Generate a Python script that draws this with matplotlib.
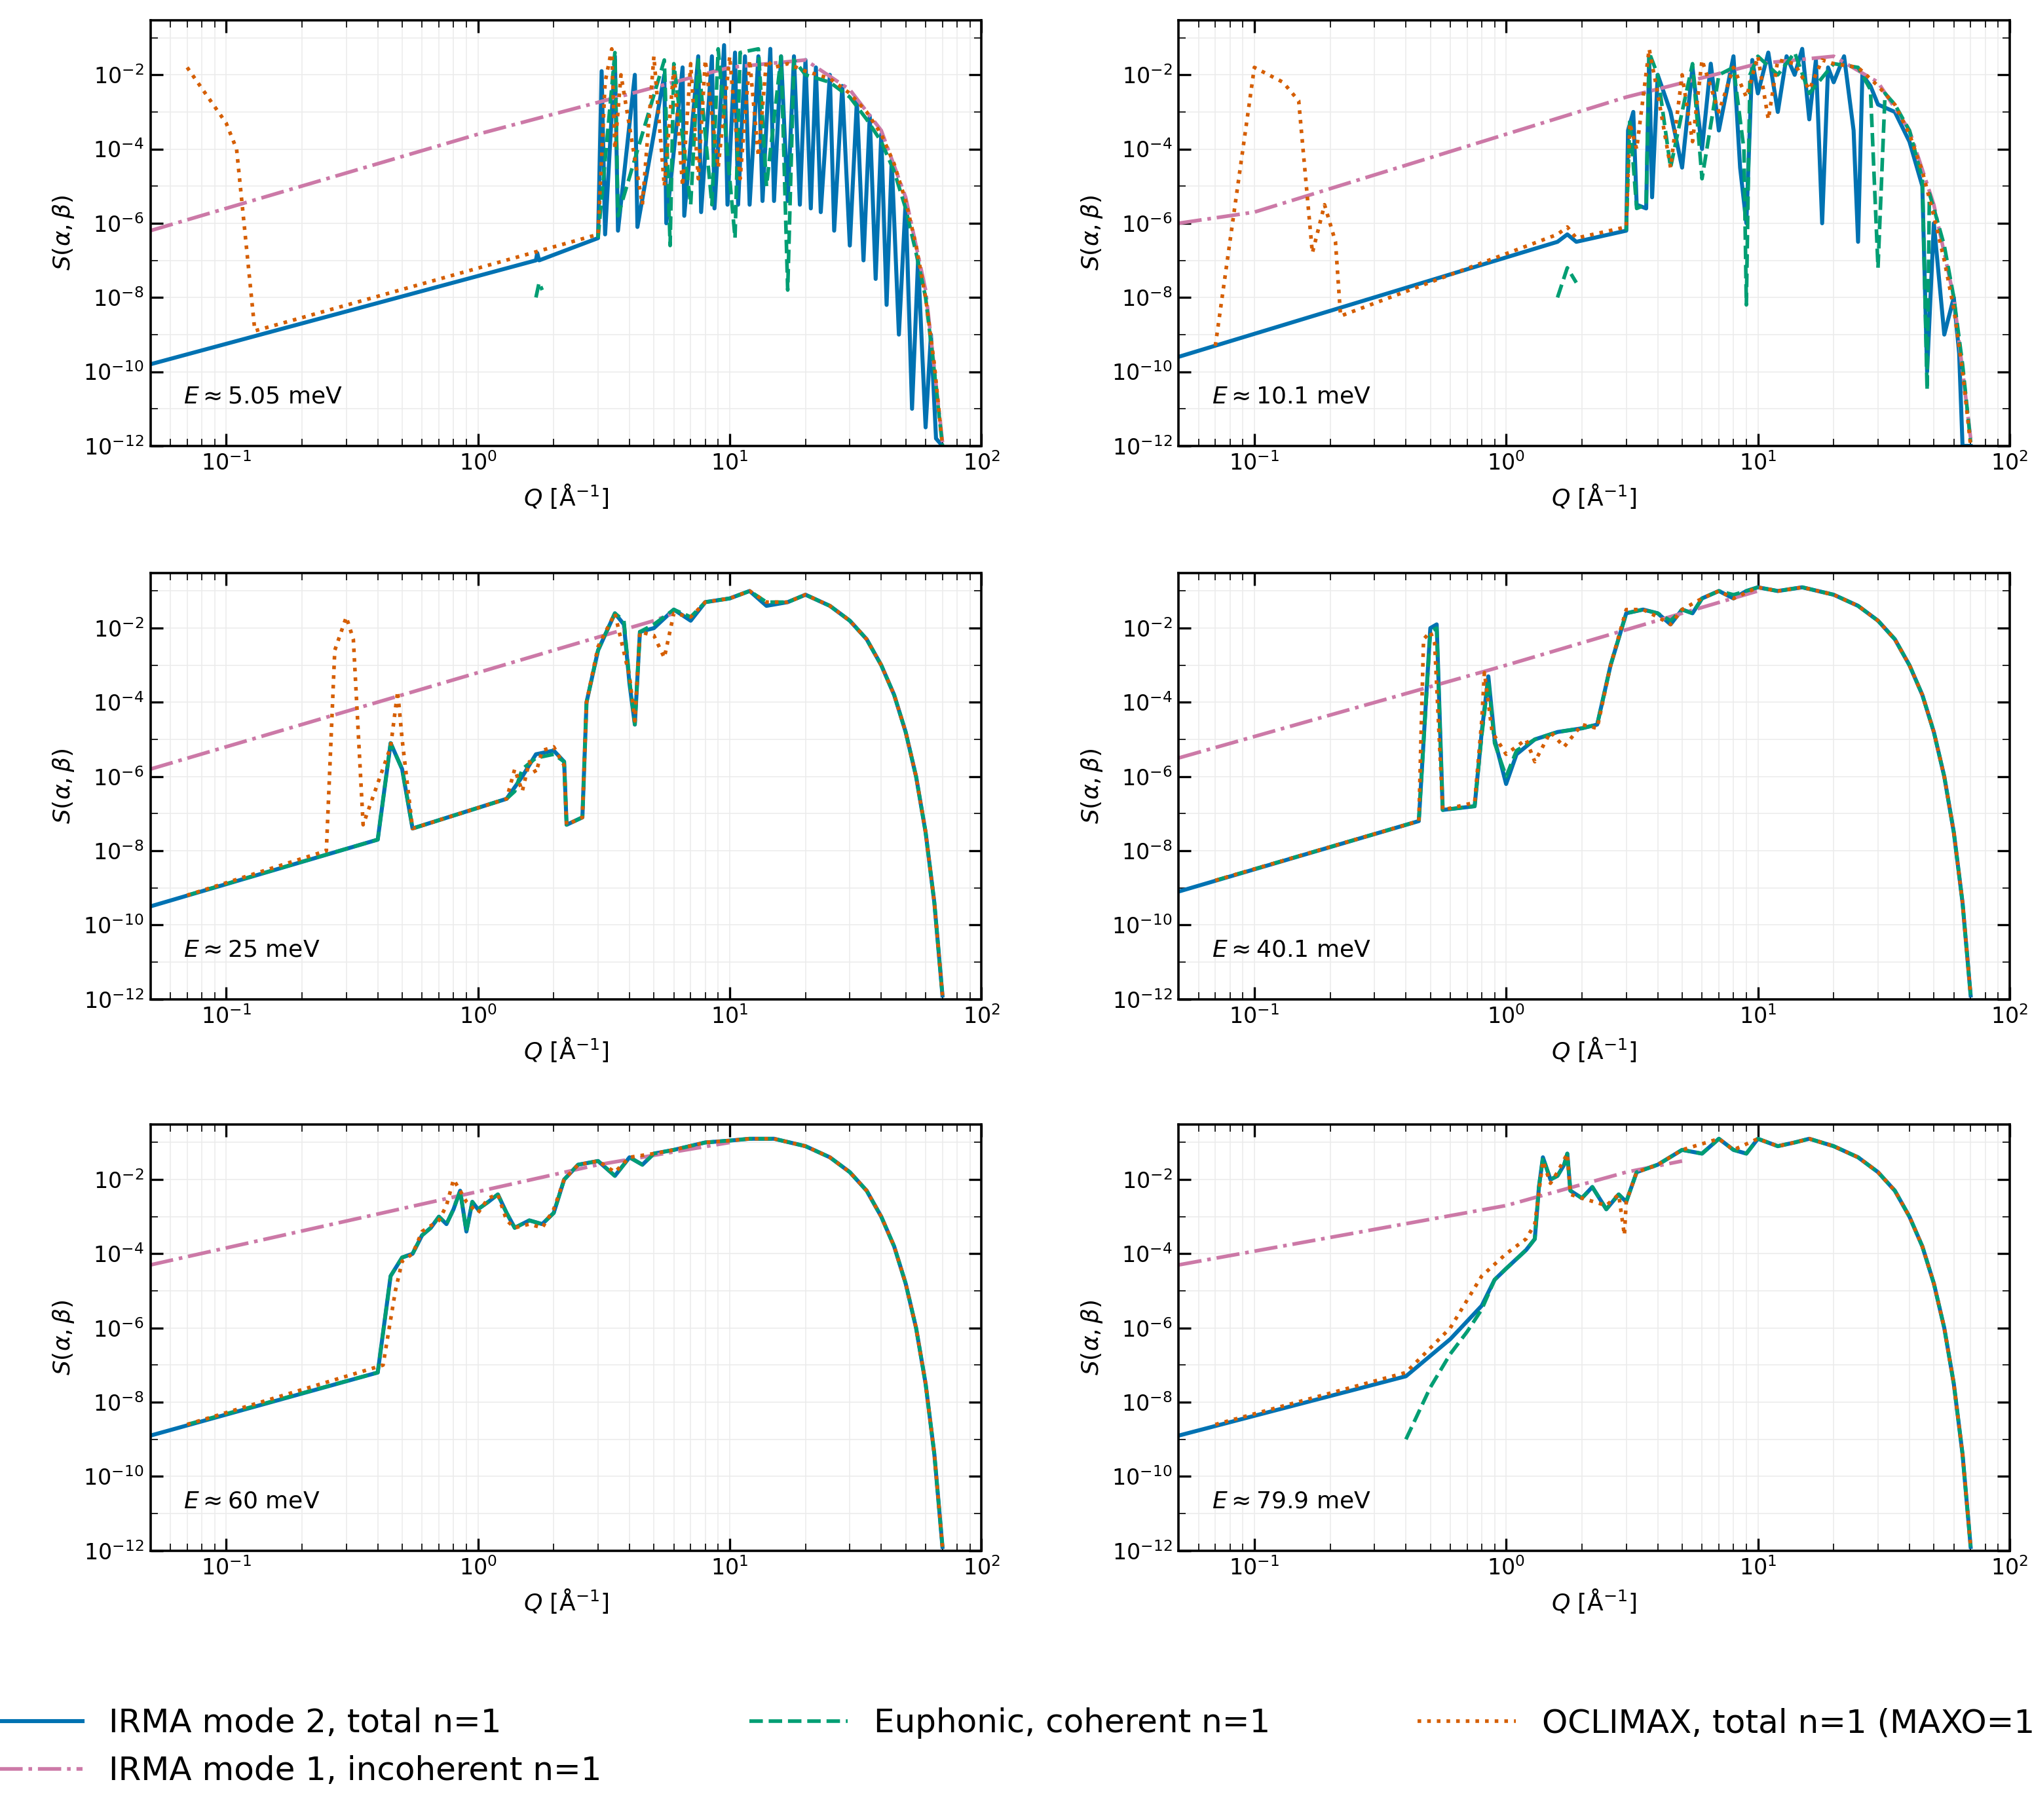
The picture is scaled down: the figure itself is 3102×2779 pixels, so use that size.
import numpy as np
import matplotlib
matplotlib.use("Agg")
import matplotlib.pyplot as plt
from matplotlib.ticker import LogLocator, NullFormatter

nan = np.nan
energies = ["5.05", "10.1", "25", "40.1", "60", "79.9"]

# ---------- data: Q [1/Å] and log10 S ----------
tail_q = [20, 25, 30, 35, 40, 45, 50, 55, 60, 65, 70]
tail_s = [-1.1, -1.4, -1.8, -2.3, -3.0, -3.8, -4.8, -6.0, -7.5, -9.4, -11.9]

# Panel 1
p1_inc_q = [0.05, 1, 10, 20, 30, 40, 50, 60, 70]
p1_inc_s = [-6.2, -3.6, -1.8, -1.6, -2.4, -3.5, -5.3, -7.8, -11.9]
p1_irma_q = [0.05, 1.7, 1.72, 1.75, 3.0, 3.1, 3.2, 3.5, 3.6, 4.2, 4.3, 5.5, 5.6, 6.5, 6.6, 7.5, 7.7, 8.5, 8.7,
             9.5, 9.8, 10.5, 10.8, 11.5, 12, 13, 13.5, 14.5, 15, 16, 17, 18, 19, 20, 21, 22, 23, 25, 26, 28, 30, 32,
             34, 36, 38, 40, 42, 44, 47, 50, 53, 56, 60, 63, 66, 70]
p1_irma_s = [-9.8, -7.0, -6.8, -7.0, -6.4, -1.9, -6.3, -1.5, -6.2, -2.0, -6.1, -2.0, -6.0, -1.8, -5.8, -1.5, -5.7,
             -1.5, -5.6, -1.2, -5.5, -1.4, -5.5, -1.5, -5.5, -1.5, -5.4, -1.3, -5.4, -1.5, -5.4, -1.5, -5.5, -1.6,
             -5.6, -1.8, -5.7, -2.0, -6.2, -2.3, -6.6, -2.7, -7.0, -3.1, -7.5, -3.6, -8.2, -4.3, -9.0, -5.4, -11.0,
             -7.0, -11.5, -9.0, -11.8, -12.0]
p1_euph_q = [1.7, 1.75, 1.8, nan, 3.0, 3.5, 3.6, 5.5, 5.8, 6.0, 7, 7.5, 8.5, 9, 10.5, 11, 13, 14, 16, 17, 18, 20, 25,
             30, 35, 40, 45, 50, 55, 60, 65, 70]
p1_euph_s = [-8.0, -7.6, -7.8, nan, -6.4, -1.4, -5.8, -1.6, -6.6, -1.7, -5.5, -1.6, -5.5, -1.3, -6.4, -1.4, -1.3,
             -5.0, -1.5, -7.8, -1.6, -2.0, -2.2, -2.6, -3.2, -3.8, -4.6, -5.6, -6.8, -8.0, -10.0, -12.0]
p1_ocl_q = [0.07, 0.1, 0.11, 0.13, 3.0, 3.2, 3.4, 3.5, 3.7, 4.5, 5.0, 5.5, 6, 6.5, 7, 7.5, 8, 9, 10, 11, 12, 13, 14,
            15, 17, 20, 25, 30, 35, 40, 45, 50, 55, 60, 65, 70]
p1_ocl_s = [-1.8, -3.3, -4.0, -8.9, -6.3, -2.2, -1.3, -4.0, -2.0, -5.5, -1.5, -5.0, -1.8, -5.0, -1.7, -4.8, -1.6,
            -4.5, -1.5, -4.8, -1.6, -4.2, -1.6, -1.8, -1.7, -1.9, -2.1, -2.5, -3.0, -3.6, -4.4, -5.4, -6.6, -8.0,
            -9.8, -12.0]

# Panel 2
p2_inc_q = [0.05, 0.1, 1, 3, 10, 20, 30, 40, 50, 60, 70]
p2_inc_s = [-6.0, -5.7, -3.6, -2.6, -1.7, -1.5, -2.2, -3.5, -5.5, -8.0, -11.8]
p2_irma_q = [0.05, 1.6, 1.75, 1.9, 3.0, 3.05, 3.2, 3.3, 3.6, 3.7, 3.8, 4.0, 4.5, 5.0, 5.5, 6, 6.5, 7, 8, 8.5, 9, 9.5,
             10, 11, 12, 13, 14, 15, 16, 17, 18, 19, 20, 22, 24, 25, 26, 28, 30, 35, 40, 45, 47, 50, 55, 60, 63, 65,
             70]
p2_irma_s = [-9.6, -6.5, -6.3, -6.5, -6.2, -3.5, -3.0, -5.5, -5.6, -1.5, -5.3, -2.0, -3.0, -4.5, -1.8, -4.0, -1.7,
             -3.5, -1.5, -4.5, -6.0, -1.6, -2.5, -1.4, -3.0, -1.5, -2.0, -1.3, -3.2, -1.6, -6.0, -1.8, -2.2, -1.5,
             -3.5, -6.5, -2.0, -2.3, -2.8, -3.0, -3.8, -5.0, -10.0, -6.0, -9.0, -8.0, -9.5, -12.0, -12.0]
p2_euph_q = [1.6, 1.75, 1.9, nan, 3.0, 3.1, 3.3, 3.6, 3.7, 4.0, 4.5, 5, 5.5, 6, 7, 8, 8.8, 9, 9.3, 10, 12, 14, 16,
             20, 25, 28, 30, 32, 35, 40, 45, 47, 48, 50, 55, 60, 65, 70]
p2_euph_s = [-8.0, -7.2, -7.6, nan, -6.2, -3.2, -5.6, -5.5, -1.4, -2.0, -4.5, -3.0, -1.7, -4.8, -2.0, -1.8, -4.0,
             -8.2, -2.0, -1.5, -2.0, -1.4, -2.5, -1.7, -1.8, -2.4, -7.2, -2.5, -2.8, -3.5, -4.8, -10.5, -5.2, -5.6,
             -6.6, -8.0, -9.8, -11.9]
p2_ocl_q = [0.07, 0.1, 0.13, 0.15, 0.17, 0.19, 0.21, 0.22, 1.6, 1.75, 1.9, 3.0, 3.1, 3.3, 3.7, 4, 4.5, 5, 5.5, 6, 7,
            8, 9, 10, 11, 12, 14, 16, 18, 20, 25, 30, 35, 40, 45, 50, 55, 60, 65, 70]
p2_ocl_s = [-9.3, -1.8, -2.2, -2.7, -6.8, -5.5, -6.5, -8.5, -6.3, -6.1, -6.4, -6.1, -3.3, -4.0, -1.3, -2.5, -4.5,
            -2.0, -3.8, -1.6, -3.0, -1.8, -2.6, -1.5, -3.2, -1.6, -1.7, -2.4, -1.6, -1.7, -1.8, -2.3, -2.8, -3.6,
            -4.6, -5.8, -7.0, -8.3, -10.0, -12.0]

# Panel 3
p3_inc_q = [0.05, 1, 5, 6]
p3_inc_s = [-5.8, -3.2, -1.8, -1.6]
p3_irma_q = [0.05, 0.4, 0.45, 0.5, 0.55, 1.3, 1.5, 1.7, 2.0, 2.2, 2.25, 2.6, 2.7, 3.0, 3.5, 3.8, 4.0, 4.2, 4.4, 5,
             6, 7, 8, 10, 12, 14, 17] + tail_q
p3_irma_s = [-9.5, -7.7, -5.1, -5.8, -7.4, -6.6, -6.0, -5.4, -5.3, -5.6, -7.3, -7.1, -4.0, -2.6, -1.6, -1.9, -3.5,
             -4.6, -2.1, -2.0, -1.5, -1.8, -1.3, -1.2, -1.0, -1.4, -1.3] + tail_s
p3_euph_q = [0.07, 0.4, 0.45, 0.5, 0.55, 1.3, 1.4, 1.5, 1.7, 2.0, 2.2, 2.25, 2.6, 2.7, 3.0, 3.5, 3.8, 4.0, 4.2,
             4.4, 5, 6, 7, 8, 10, 12, 14, 17] + tail_q
p3_euph_s = [-9.2, -7.7, -5.1, -5.8, -7.4, -6.6, -6.4, -5.8, -5.5, -5.4, -5.6, -7.3, -7.1, -4.0, -2.6, -1.6, -1.8,
             -3.4, -4.6, -2.1, -1.9, -1.5, -1.7, -1.3, -1.2, -1.0, -1.3, -1.3] + tail_s
p3_ocl_q = [0.07, 0.25, 0.27, 0.3, 0.32, 0.35, 0.45, 0.48, 0.5, 0.55, 1.3, 1.4, 1.5, 1.6, 1.7, 1.8, 2.0, 2.2, 2.25,
            2.6, 2.7, 3.0, 3.5, 4.0, 4.2, 4.4, 5.0, 5.5, 6, 7, 8, 10, 12, 14, 17] + tail_q
p3_ocl_s = [-9.2, -8.0, -2.6, -1.7, -2.3, -7.3, -5.2, -3.7, -5.0, -7.4, -6.6, -5.8, -6.4, -5.6, -5.9, -5.3, -5.2,
            -5.7, -7.3, -7.1, -4.0, -2.5, -1.6, -3.3, -4.5, -2.1, -2.2, -2.8, -1.6, -1.7, -1.3, -1.2, -1.0, -1.3,
            -1.3] + tail_s

# Panel 4
p4_inc_q = [0.05, 1, 5, 10]
p4_inc_s = [-5.5, -3.0, -1.6, -1.0]
p4_irma_q = [0.05, 0.45, 0.5, 0.53, 0.56, 0.75, 0.8, 0.85, 0.9, 1.0, 1.1, 1.3, 1.6, 2.0, 2.3, 2.6, 3, 3.5, 4, 4.5,
             5, 5.5, 6, 7, 8, 9, 10, 12, 15] + tail_q
p4_irma_s = [-9.1, -7.2, -2.0, -1.9, -6.9, -6.8, -4.8, -3.3, -5.0, -6.2, -5.4, -5.0, -4.8, -4.7, -4.6, -3.0, -1.6,
             -1.5, -1.6, -1.9, -1.5, -1.6, -1.2, -1.0, -1.2, -1.0, -0.9, -1.0, -0.9] + tail_s
p4_euph_q = [0.07, 0.45, 0.5, 0.53, 0.56, 0.75, 0.8, 0.85, 0.9, 1.0, 1.1, 1.3, 1.6, 2.0, 2.3, 2.6, 3, 3.5, 4, 4.5,
             5, 5.5, 6, 7, 8, 9, 10, 12, 15] + tail_q
p4_euph_s = [-8.8, -7.2, -2.1, -2.0, -6.9, -6.8, -4.9, -3.4, -5.1, -6.0, -5.3, -5.0, -4.8, -4.7, -4.6, -3.0, -1.6,
             -1.5, -1.6, -1.8, -1.5, -1.6, -1.2, -1.0, -1.1, -1.0, -0.9, -1.0, -0.9] + tail_s
p4_ocl_q = [0.07, 0.45, 0.47, 0.5, 0.52, 0.56, 0.75, 0.8, 0.82, 0.88, 1.0, 1.2, 1.3, 1.5, 1.7, 2.0, 2.3, 2.6, 3,
            3.5, 4, 4.5, 5, 6, 7, 8, 10, 12, 15] + tail_q
p4_ocl_s = [-8.8, -7.2, -2.3, -2.1, -2.4, -6.9, -6.7, -4.5, -3.2, -4.8, -5.4, -5.0, -5.6, -4.8, -5.2, -4.6, -4.7,
            -3.0, -1.5, -1.5, -1.7, -1.9, -1.5, -1.2, -1.0, -1.2, -0.9, -1.0, -0.9] + tail_s

# Panel 5
p5_inc_q = [0.05, 3, 10]
p5_inc_s = [-4.3, -1.6, -1.0]
p5_irma_q = [0.05, 0.4, 0.45, 0.5, 0.55, 0.6, 0.65, 0.7, 0.75, 0.8, 0.85, 0.9, 0.95, 1.0, 1.1, 1.2, 1.3, 1.4, 1.6,
             1.8, 2.0, 2.2, 2.5, 3, 3.5, 4, 4.5, 5, 6, 8, 10, 12, 15] + tail_q
p5_irma_s = [-8.9, -7.2, -4.6, -4.1, -4.0, -3.5, -3.3, -3.0, -3.2, -2.8, -2.3, -3.4, -2.6, -2.8, -2.6, -2.4, -2.9,
             -3.3, -3.1, -3.2, -2.9, -2.0, -1.6, -1.5, -1.9, -1.4, -1.6, -1.3, -1.2, -1.0, -0.95, -0.9,
             -0.9] + tail_s
p5_euph_q = [0.07] + p5_irma_q[1:]
p5_euph_s = [-8.6] + p5_irma_s[1:]
p5_ocl_q = [0.07, 0.42, 0.47, 0.5, 0.55, 0.6, 0.7, 0.75, 0.8, 0.85, 0.9, 1.0, 1.1, 1.2, 1.3, 1.4, 1.6, 1.8, 2.0,
            2.2, 2.5, 3, 3.5, 4, 5, 6, 8, 10, 12, 15] + tail_q
p5_ocl_s = [-8.6, -7.0, -5.0, -4.2, -4.0, -3.4, -3.1, -2.7, -2.0, -2.3, -2.6, -2.9, -2.5, -2.4, -3.1, -3.3, -3.2,
            -3.3, -2.8, -2.0, -1.6, -1.5, -1.8, -1.4, -1.3, -1.2, -1.0, -0.95, -0.9, -0.9] + tail_s

# Panel 6
p6_inc_q = [0.05, 1, 3, 5]
p6_inc_s = [-4.3, -2.7, -1.8, -1.5]
p6_irma_q = [0.05, 0.4, 0.6, 0.8, 0.9, 1.0, 1.2, 1.3, 1.35, 1.4, 1.5, 1.6, 1.7, 1.75, 1.8, 2.0, 2.2, 2.5, 2.8, 3.0,
             3.3, 4, 5, 6, 7, 8, 9, 10, 12, 14, 16] + tail_q
p6_irma_s = [-8.9, -7.3, -6.3, -5.4, -4.7, -4.4, -3.9, -3.6, -2.2, -1.4, -2.0, -1.9, -1.6, -1.3, -2.3, -2.5, -2.2,
             -2.8, -2.4, -2.6, -1.8, -1.6, -1.2, -1.3, -0.9, -1.2, -1.3, -0.9, -1.1, -1.0, -0.9] + tail_s
p6_euph_q = [0.4, 0.5, 0.6, 0.7, 0.8] + p6_irma_q[4:]
p6_euph_s = [-9.0, -7.6, -6.7, -6.1, -5.5] + p6_irma_s[4:]
p6_ocl_q = [0.07, 0.4, 0.6, 0.8, 1.0, 1.2, 1.3, 1.4, 1.5, 1.6, 1.75, 1.8, 2.0, 2.5, 2.8, 2.95, 3.0, 3.3, 4, 5, 7,
            8, 10, 12, 14, 16] + tail_q
p6_ocl_s = [-8.6, -7.2, -6.0, -4.6, -4.0, -3.6, -3.2, -1.5, -2.1, -1.8, -1.3, -2.4, -2.5, -2.7, -2.4, -3.5, -2.6,
            -1.8, -1.6, -1.2, -0.9, -1.2, -0.9, -1.1, -1.0, -0.9] + tail_s

panels = [
    (p1_inc_q, p1_inc_s, p1_irma_q, p1_irma_s, p1_euph_q, p1_euph_s, p1_ocl_q, p1_ocl_s),
    (p2_inc_q, p2_inc_s, p2_irma_q, p2_irma_s, p2_euph_q, p2_euph_s, p2_ocl_q, p2_ocl_s),
    (p3_inc_q, p3_inc_s, p3_irma_q, p3_irma_s, p3_euph_q, p3_euph_s, p3_ocl_q, p3_ocl_s),
    (p4_inc_q, p4_inc_s, p4_irma_q, p4_irma_s, p4_euph_q, p4_euph_s, p4_ocl_q, p4_ocl_s),
    (p5_inc_q, p5_inc_s, p5_irma_q, p5_irma_s, p5_euph_q, p5_euph_s, p5_ocl_q, p5_ocl_s),
    (p6_inc_q, p6_inc_s, p6_irma_q, p6_irma_s, p6_euph_q, p6_euph_s, p6_ocl_q, p6_ocl_s),
]

BLUE, PINK, GREEN, ORANGE = "#0072B2", "#CC79A7", "#009E73", "#D55E00"

fig = plt.figure(figsize=(15.51, 13.895), dpi=200)
lefts = [0.074, 0.580]
bottoms = [0.755, 0.451, 0.148]
handles = None
for i, (iq, is_, bq, bs, gq, gs, oq, os_) in enumerate(panels):
    ax = fig.add_axes([lefts[i % 2], bottoms[i // 2], 0.409, 0.234])
    h1, = ax.plot(bq, 10 ** np.array(bs), color=BLUE, lw=2.2, label="IRMA mode 2, total n=1")
    h2, = ax.plot(iq, 10 ** np.array(is_), color=PINK, lw=2.0, ls="-.", label="IRMA mode 1, incoherent n=1")
    h3, = ax.plot(gq, 10 ** np.array(gs), color=GREEN, lw=2.0, ls="--", label="Euphonic, coherent n=1")
    h4, = ax.plot(oq, 10 ** np.array(os_), color=ORANGE, lw=2.0, ls=":", label="OCLIMAX, total n=1 (MAXO=1)")
    handles = [h1, h2, h3, h4]
    ax.set_xscale("log")
    ax.set_yscale("log")
    ax.set_xlim(0.05, 100)
    ax.set_ylim(1e-12, 0.3)
    ax.set_yticks([10.0 ** k for k in range(-12, -1, 2)])
    ax.yaxis.set_minor_locator(LogLocator(base=10, subs=[1.0], numticks=20))
    ax.yaxis.set_minor_formatter(NullFormatter())
    ax.xaxis.set_minor_locator(LogLocator(base=10, subs=np.arange(2, 10), numticks=20))
    ax.grid(True, which="both", color="#ececec", lw=0.6)
    ax.set_axisbelow(True)
    ax.tick_params(which="both", direction="in", top=True, right=True, labelsize=12)
    ax.tick_params(which="major", length=7, width=1.2)
    ax.tick_params(which="minor", length=4)
    for sp in ax.spines.values():
        sp.set_linewidth(1.3)
    ax.set_xlabel(r"$Q$ [Å$^{-1}$]", fontsize=13)
    ax.set_ylabel(r"$S(\alpha,\beta)$", fontsize=13)
    ax.text(0.04, 0.1, r"$E \approx $" + f"{energies[i]} meV", transform=ax.transAxes, fontsize=13)

fig.legend(handles=handles, loc="center", bbox_to_anchor=(0.5, 0.04), ncol=3, frameon=False,
           fontsize=18, handlelength=3, columnspacing=4.5)
fig.savefig("out.png", dpi=200)
